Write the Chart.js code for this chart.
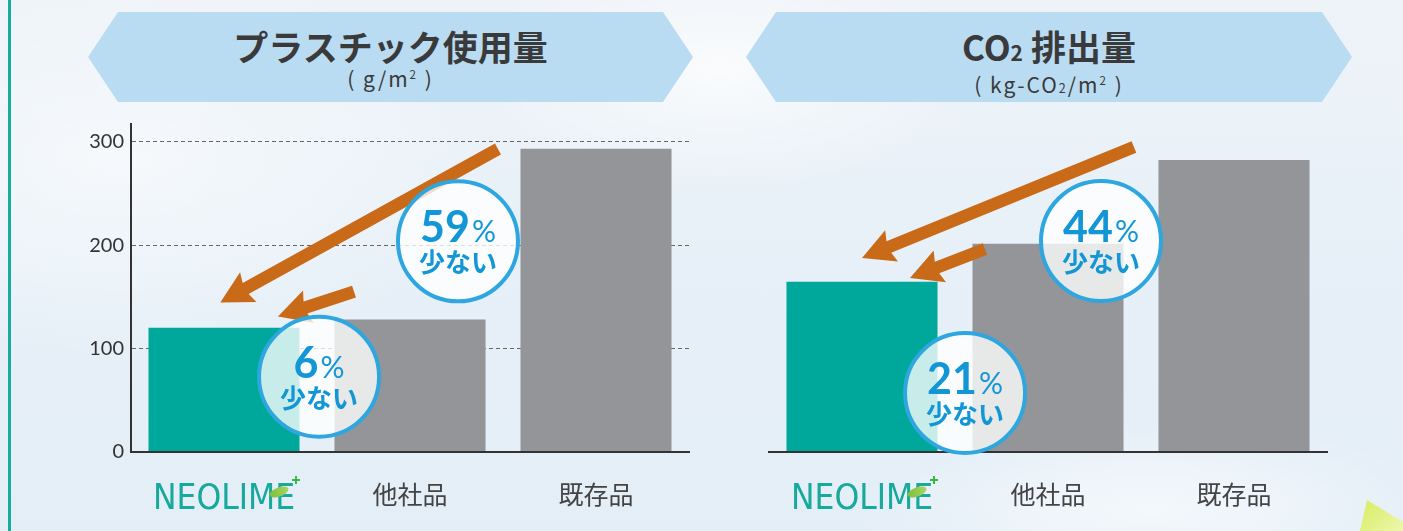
<!DOCTYPE html>
<html lang="ja">
<head>
<meta charset="UTF-8">
<title>NEOLIME 比較</title>
<script src="https://cdn.jsdelivr.net/npm/chart.js"></script>
<style>
  html, body { margin: 0; padding: 0; }
  body {
    width: 1403px; height: 531px; overflow: hidden; position: relative;
    font-family: 'Noto Sans CJK JP', sans-serif;
    background:
      radial-gradient(ellipse 260px 120px at 720px 70px, rgba(255,255,255,0.7), rgba(255,255,255,0)),
      radial-gradient(ellipse 300px 90px at 1150px 510px, rgba(255,255,255,0.6), rgba(255,255,255,0)),
      radial-gradient(ellipse 380px 200px at 120px 160px, rgba(255,255,255,0.55), rgba(255,255,255,0)),
      linear-gradient(to bottom, #eef3f8 0%, #e7f0f8 50%, #e4eef7 100%);
  }
  .stripe { position: absolute; left: 8px; top: 0; width: 3px; height: 531px; background: #17ac9d; }
  .leafy { position: absolute; left: 1358px; top: 498px; width: 46px; height: 34px;
    background: linear-gradient(135deg, #d6ec5c, #eef7b0);
    clip-path: polygon(2px 33px, 9px 2px, 45px 24px, 45px 34px, 0 34px); }
  .banner {
    position: absolute; top: 12px; height: 90px; background: #b9dcf2; color: #3a3a3a; text-align: center;
    clip-path: polygon(0 50%, 30px 0, calc(100% - 30px) 0, 100% 50%, calc(100% - 30px) 100%, 30px 100%);
  }
  .banner h2 { margin: 0; padding-top: 16px; font-size: 35px; font-weight: 700; line-height: 36px; }
  .banner p { margin: 2px 0 0; font-size: 21px; line-height: 24px; letter-spacing: 2px; }
  .banner small { font-size: 60%; }
  .banner sup { font-size: 55%; vertical-align: 0.7em; line-height: 0; }
  .banner sub { font-size: 60%; vertical-align: baseline; }
  .chart { position: absolute; }
</style>
</head>
<body>
<div class="stripe"></div>
<div class="leafy"></div>
<div class="banner" style="left:88px; width:605px;">
  <h2>プラスチック使用量</h2>
  <p>( g/m<sup>2</sup> )</p>
</div>
<div class="banner" style="left:746px; width:606px;">
  <h2>CO<small>2</small> 排出量</h2>
  <p>( kg-CO<sub>2</sub>/m<sup>2</sup> )</p>
</div>
<div class="chart" style="left:0; top:105px; width:700px; height:426px;"><canvas id="plastic"></canvas></div>
<div class="chart" style="left:700px; top:110px; width:703px; height:421px;"><canvas id="co2"></canvas></div>

<script>
// 比較データ
const categories = ['NEOLIME', '他社品', '既存品'];
const plasticValues = [120, 128, 293];   // g/m2
const co2Values = [165, 202, 283];       // kg-CO2/m2
const yTicks = [0, 100, 200, 300];
const yMax = 317;
const plasticCuts = ['59', '6'];   // % 少ない（既存品比, 他社品比）
const co2Cuts = ['44', '21'];

const teal = '#00a89c';
const gray = '#939598';
const arrowColor = '#c96a19';
const bubbleBlue = '#2ea6df';
const textBlue = '#1396d6';

function drawArrow(ctx, x1, y1, x2, y2) {
  const ang = Math.atan2(y2 - y1, x2 - x1);
  const len = Math.hypot(x2 - x1, y2 - y1);
  const headLen = 32, headW = 17, shaft = 6.2;
  ctx.save();
  ctx.translate(x2, y2);
  ctx.rotate(ang);
  ctx.beginPath();
  ctx.moveTo(0, 0);
  ctx.lineTo(-headLen, -headW);
  ctx.lineTo(-headLen + 3, -shaft);
  ctx.lineTo(-len, -shaft);
  ctx.lineTo(-len, shaft);
  ctx.lineTo(-headLen + 3, shaft);
  ctx.lineTo(-headLen, headW);
  ctx.closePath();
  ctx.fillStyle = arrowColor;
  ctx.fill();
  ctx.restore();
}

function drawBubble(ctx, cx, cy, pct) {
  ctx.save();
  ctx.beginPath();
  ctx.arc(cx, cy, 60, 0, Math.PI * 2);
  ctx.fillStyle = 'rgba(255,255,255,0.78)';
  ctx.fill();
  ctx.lineWidth = 4;
  ctx.strokeStyle = bubbleBlue;
  ctx.stroke();
  ctx.fillStyle = textBlue;
  ctx.textBaseline = 'alphabetic';
  const numFont = 'bold 43px Lato, sans-serif';
  const pctFont = '30px Lato, sans-serif';
  ctx.font = numFont;
  const w1 = ctx.measureText(pct).width;
  ctx.font = pctFont;
  const w2 = ctx.measureText('%').width;
  const sx = cx - (w1 + w2 + 2) / 2;
  ctx.font = numFont;
  ctx.textAlign = 'left';
  ctx.fillText(pct, sx, cy + 1);
  ctx.font = pctFont;
  ctx.fillText('%', sx + w1 + 2, cy + 1);
  ctx.font = 'bold 26px "Noto Sans CJK JP", sans-serif';
  ctx.textAlign = 'center';
  ctx.fillText('少ない', cx, cy + 31);
  ctx.restore();
}

const calloutPlugin = {
  id: 'callouts',
  afterDraw(chart, args, opts) {
    const ctx = chart.ctx;
    const xs = chart.scales.x, ys = chart.scales.y;
    (opts.arrows || []).forEach(a => {
      drawArrow(ctx,
        xs.getPixelForValue(a.from[0]), ys.getPixelForValue(a.from[1]),
        xs.getPixelForValue(a.to[0]), ys.getPixelForValue(a.to[1]));
    });
    (opts.bubbles || []).forEach(b => {
      drawBubble(ctx, xs.getPixelForValue(b.at[0]), ys.getPixelForValue(b.at[1]), b.text);
    });
    // NEOLIME ロゴの葉と「+」
    const cx = xs.getPixelForValue(0);
    const by = chart.chartArea.bottom;
    ctx.save();
    ctx.translate(cx + 55, by + 40);
    ctx.rotate(-0.35);
    ctx.beginPath();
    ctx.ellipse(0, 0, 10, 4.5, 0, 0, Math.PI * 2);
    const g = ctx.createLinearGradient(-10, 0, 10, 0);
    g.addColorStop(0, '#7dbf3a');
    g.addColorStop(1, '#a8d562');
    ctx.fillStyle = g;
    ctx.fill();
    ctx.restore();
    ctx.save();
    ctx.strokeStyle = '#39b54a';
    ctx.lineWidth = 2;
    ctx.beginPath();
    ctx.moveTo(cx + 68, by + 28); ctx.lineTo(cx + 76, by + 28);
    ctx.moveTo(cx + 72, by + 24); ctx.lineTo(cx + 72, by + 32);
    ctx.stroke();
    ctx.restore();
  }
};

function makeChart(id, values, showY, yWidth, padding, callouts) {
  return new Chart(document.getElementById(id), {
    type: 'bar',
    data: {
      labels: categories,
      datasets: [{
        data: values,
        backgroundColor: [teal, gray, gray],
        borderWidth: 0,
        categoryPercentage: 1,
        barPercentage: 0.812
      }]
    },
    options: {
      responsive: true,
      maintainAspectRatio: false,
      animation: false,
      layout: { padding: padding },
      plugins: { legend: { display: false }, tooltip: { enabled: false }, callouts: callouts },
      scales: {
        x: {
          grid: { display: false },
          border: { color: '#333', width: 2, z: 1 },
          afterFit: s => { s.height = 79; },
          ticks: {
            padding: 19,
            maxRotation: 0,
            minRotation: 0,
            autoSkip: false,
            color: c => c.index === 0 ? '#16a99c' : '#444',
            font: c => c.index === 0
              ? { family: '"Liberation Sans Narrow", "DejaVu Sans Condensed", sans-serif', size: 35 }
              : { family: '"Noto Sans CJK JP", sans-serif', size: 25 }
          }
        },
        y: {
          min: 0,
          max: yMax,
          afterFit: s => { s.width = yWidth; },
          afterBuildTicks: s => { s.ticks = yTicks.map(v => ({ value: v })); },
          grid: {
            display: showY,
            color: c => c.tick && c.tick.value === 0 ? 'rgba(0,0,0,0)' : '#666',
            lineWidth: 1,
            drawTicks: false
          },
          border: { display: showY, color: '#333', width: 2, dash: [4, 3] },
          ticks: { display: showY, padding: 7, color: '#333', font: { family: 'Lato, sans-serif', size: 20 } }
        }
      }
    },
    plugins: [calloutPlugin]
  });
}

makeChart('plastic', plasticValues, true, 131, { top: 10, right: 11, left: 0, bottom: 0 }, {
  arrows: [
    { from: [1.473, 292.8], to: [-0.02, 144.5] },
    { from: [0.699, 155.1], to: [0.29, 130.9] }
  ],
  bubbles: [
    { at: [1.258, 203.6], text: plasticCuts[0] },
    { at: [0.511, 72.7], text: plasticCuts[1] }
  ]
});

makeChart('co2', co2Values, false, 69, { top: 15, right: 76, left: 0, bottom: 0 }, {
  arrows: [
    { from: [1.462, 295.7], to: [0, 188.1] },
    { from: [0.661, 196.8], to: [0.258, 168.7] }
  ],
  bubbles: [
    { at: [1.285, 204.6], text: co2Cuts[0] },
    { at: [0.554, 57.2], text: co2Cuts[1] }
  ]
});
</script>
</body>
</html>
